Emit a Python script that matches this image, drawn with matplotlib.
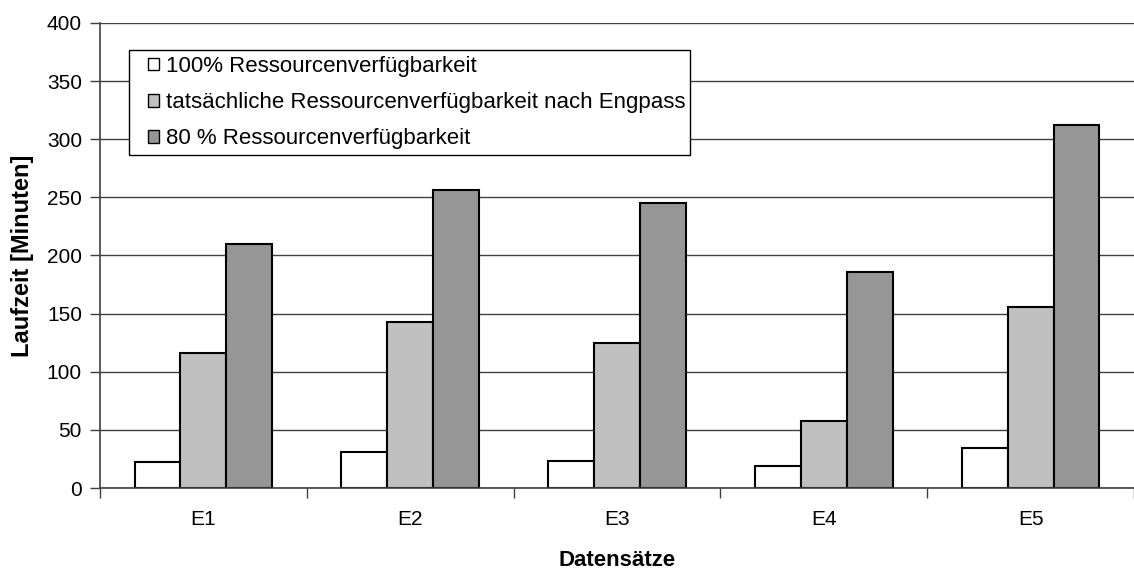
import numpy as np
import matplotlib.pyplot as plt
from matplotlib.patches import Rectangle

plt.rcParams['font.family'] = ['Liberation Sans', 'DejaVu Sans']

# Laufzeiten je Datensatz (Minuten)
datensaetze = ['E1', 'E2', 'E3', 'E4', 'E5']
lauf_100 = [22, 31, 23.5, 19, 34]
lauf_engpass = [116, 143, 125, 58, 156]
lauf_80 = [210, 256, 245.5, 186, 312]

labels = ['100% Ressourcenverfügbarkeit',
          'tatsächliche Ressourcenverfügbarkeit nach Engpass',
          '80 % Ressourcenverfügbarkeit']
farben = ['#FFFFFF', '#C0C0C0', '#969696']

W, H = 1134, 570
fig = plt.figure(figsize=(W / 100, H / 100), dpi=100)
ax = fig.add_axes([100 / W, 82 / H, 1 - 100 / W, (488 - 23) / H])

x = np.arange(len(datensaetze))
bw = 0.222
for i, (werte, farbe, lab) in enumerate(zip([lauf_100, lauf_engpass, lauf_80], farben, labels)):
    ax.bar(x + (i - 1) * bw, werte, bw, color=farbe, edgecolor='black',
           linewidth=1.5, label=lab, zorder=3)

ax.set_ylim(0, 400)
ax.set_xlim(-0.5, 4.47)
ax.set_yticks(np.arange(0, 401, 50))
ax.set_xticks(x)
ax.set_xticklabels(datensaetze)
ax.set_xticks(np.arange(-0.5, 4.6, 1), minor=True)
ax.tick_params(axis='x', which='major', length=0, pad=16, labelsize=15)
ax.tick_params(axis='x', which='minor', length=7, width=1, color='#404040')
ax.tick_params(axis='y', length=7, width=1, color='#404040', labelsize=15, pad=6)

ax.grid(axis='y', color='#404040', linewidth=1, zorder=0)
for s in ['top', 'right']:
    ax.spines[s].set_visible(False)
for s in ['left', 'bottom']:
    ax.spines[s].set_color('#404040')
    ax.spines[s].set_linewidth(1.2)
ax.spines['bottom'].set_zorder(4)

ax.set_ylabel('Laufzeit [Minuten]', fontsize=17, fontweight='bold', labelpad=9)
ax.set_xlabel('Datensätze', fontsize=16, fontweight='bold', labelpad=15)

# Legendenrahmen separat, Einträge ohne eigenen Rahmen
fig.patches.append(Rectangle((129 / W, 1 - 155 / H), (690 - 129) / W, 105 / H,
                             transform=fig.transFigure, facecolor='white',
                             edgecolor='black', linewidth=1, zorder=5))
leg = fig.legend(loc='upper left', bbox_to_anchor=(148 / W, 1 - 56 / H),
                 fontsize=16, frameon=False, handlelength=0.5, handleheight=0.5,
                 handletextpad=0.3, labelspacing=0.68, borderpad=0, borderaxespad=0)
leg.set_zorder(6)
for p in leg.get_patches():
    p.set_linewidth(1)

fig.savefig('out.png', dpi=100)
